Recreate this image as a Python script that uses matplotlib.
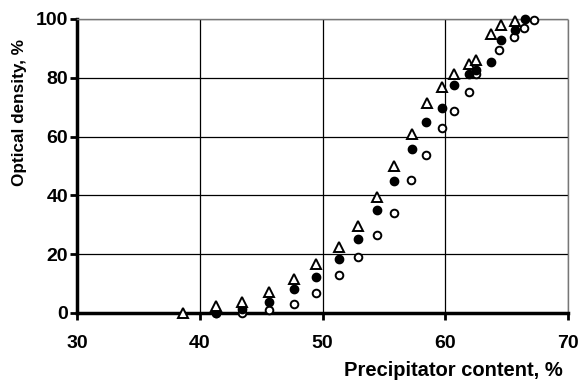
import matplotlib
matplotlib.use("Agg")
import matplotlib.pyplot as plt

plt.rcParams['font.family'] = ['Liberation Sans', 'DejaVu Sans']

# Series: open triangles
tri_x = [38.6, 41.3, 43.4, 45.6, 47.7, 49.5, 51.3, 52.9, 54.4, 55.8, 57.3, 58.5,
         59.7, 60.7, 61.9, 62.5, 63.7, 64.5, 65.7]
tri_y = [0, 2.5, 3.6, 7.3, 11.6, 16.8, 22.6, 29.6, 39.6, 50, 61, 71.3,
         77, 81.3, 84.6, 86, 94.8, 97.9, 99.4]

# Series: filled circles
fc_x = [41.3, 43.4, 45.6, 47.7, 49.5, 51.3, 52.9, 54.4, 55.8, 57.3, 58.4, 59.7,
        60.7, 61.9, 62.5, 63.7, 64.5, 65.7, 66.5]
fc_y = [0.1, 1.2, 3.8, 8.2, 12.1, 18.4, 25, 35, 45, 55.8, 64.9, 69.8,
        77.6, 81.3, 82.6, 85.4, 92.9, 96.4, 100]

# Series: open circles
oc_x = [41.3, 43.4, 45.6, 47.7, 49.5, 51.3, 52.9, 54.4, 55.8, 57.2, 58.4, 59.7,
        60.7, 61.9, 62.5, 64.4, 65.6, 66.4, 67.2]
oc_y = [0, 0, 1, 3, 6.9, 12.8, 19, 26.5, 34.1, 45.2, 53.7, 63,
        68.8, 75.3, 81.3, 89.5, 93.8, 96.8, 99.7]

x_ticks = [30, 40, 50, 60, 70]
y_ticks = [0, 20, 40, 60, 80, 100]

fig = plt.figure(figsize=(5.81, 3.83), dpi=100)
ax = fig.add_axes([0.1325, 0.1828, 0.978 - 0.1325, 0.9504 - 0.1828])

ax.plot(oc_x, oc_y, linestyle='none', marker='o', markersize=5.5,
        markerfacecolor='white', markeredgecolor='black', markeredgewidth=1.4,
        clip_on=False, zorder=3)
ax.plot(fc_x, fc_y, linestyle='none', marker='o', markersize=6,
        markerfacecolor='black', markeredgecolor='black',
        clip_on=False, zorder=4)
ax.plot(tri_x, tri_y, linestyle='none', marker='^', markersize=7,
        markerfacecolor='white', markeredgecolor='black', markeredgewidth=1.4,
        clip_on=False, zorder=5)

ax.set_xlim(30, 70)
ax.set_ylim(0, 100)
ax.set_xticks(x_ticks)
ax.set_yticks(y_ticks)
ax.grid(True, color='black', linewidth=0.9)
ax.set_axisbelow(True)

for s in ['left', 'bottom']:
    ax.spines[s].set_linewidth(2.5)
for s in ['top', 'right']:
    ax.spines[s].set_linewidth(1.0)
    ax.spines[s].set_linestyle((0, (1, 1)))
    ax.spines[s].set_color('#777777')

ax.tick_params(axis='both', direction='out', length=5, width=2, labelsize=14)
ax.tick_params(axis='x', pad=11)
ax.tick_params(axis='y', pad=1.5)
for lab in ax.get_xticklabels() + ax.get_yticklabels():
    lab.set_fontweight('bold')

ax.set_xlabel('Precipitator content, %', fontsize=14.5, fontweight='bold')
ax.xaxis.set_label_coords(0.988, -0.194)
ax.xaxis.label.set_horizontalalignment('right')
ax.xaxis.label.set_verticalalignment('center')
ax.set_ylabel('Optical density, %', fontsize=12.3, fontweight='bold')
ax.yaxis.set_label_coords(-0.102, 0.682)

fig.savefig('out.png', dpi=100)
